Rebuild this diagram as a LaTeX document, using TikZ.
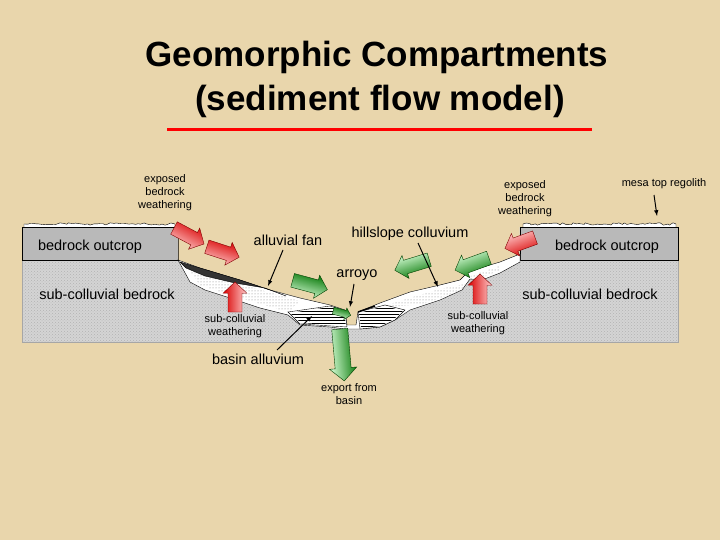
\documentclass[tikz,border=0pt]{standalone}
\usepackage{fontspec}
\setmainfont{Liberation Sans}
\usetikzlibrary{patterns,decorations.pathmorphing}
\definecolor{bg}{HTML}{E9D6AC}
\definecolor{rock}{HTML}{D4D4D4}
\tikzset{
  lbl/.style={font=\fontsize{14.5}{16}\selectfont, align=center, inner sep=1pt},
  sml/.style={font=\fontsize{11}{13}\selectfont, align=center, inner sep=1pt},
  ptr/.style={-latex, black, line width=1pt},
  redfill/.style={draw=red!50!black, left color=red!85!black, right color=red!20!white},
  grnfill/.style={draw=green!25!black, left color=green!45!black, right color=green!15!white},
}
% \blockarrow{x}{y}{angle}{length}{shaft width}{style}
\newcommand{\blockarrow}[6]{%
  \begin{scope}[shift={(#1,#2)}, rotate=#3]
  \path[#6, shading angle=#3] (-#4/2,-#5/2) -- ({#4/2-0.8*#5},-#5/2) -- ({#4/2-0.8*#5},-0.85*#5) -- (#4/2,0) -- ({#4/2-0.8*#5},0.85*#5) -- ({#4/2-0.8*#5},#5/2) -- (-#4/2,#5/2) -- cycle;
  \end{scope}}
\begin{document}
\begin{tikzpicture}[x=1pt,y=-1pt]
\fill[bg] (0,0) rectangle (720,540);
\node[font=\bfseries\fontsize{35}{40}\selectfont] (t1) at (377,57) {Geomorphic Compartments};
\node[font=\bfseries\fontsize{35}{40}\selectfont] (t2) at (380,101) {(sediment flow model)};
\draw[red, line width=3pt] (167,130) -- (592,130);
% bedrock body
\fill[rock] (22,227) rectangle (678,342);
\fill[pattern=crosshatch dots, pattern color=gray!60] (22,260) rectangle (678,342);
\draw[gray!70] (22,260) rectangle (678,342);
\fill[gray!55] (22,227) rectangle (178,260);
\fill[gray!55] (520,227) rectangle (678,260);
\draw (22,227) rectangle (178,260);
\draw (520,227) rectangle (678,260);
% regolith
\draw[fill=white, decorate, decoration={random steps, segment length=3pt, amplitude=1.2pt}] (24,227) -- (24,224) -- (175,224) -- (175,227);
\draw[fill=white, decorate, decoration={random steps, segment length=3pt, amplitude=1.2pt}] (523,227) -- (523,224) -- (676,224) -- (676,227);
% valley air
\fill[bg] (178.5,226) -- (178.5,260) -- (200,268) -- (240,280) -- (270,290) -- (300,298) -- (330,305) -- (345,310) -- (347,325) -- (356,325) -- (358,312) -- (380,303) -- (410,292) -- (440,285) -- (460,280) -- (468,272) -- (480,268) -- (500,262) -- (519.5,254) -- (519.5,226) -- cycle;
% sediment
\draw[fill=white] (178,260) -- (200,268) -- (240,280) -- (270,290) -- (300,298) -- (330,305) -- (345,310) -- (347,325) -- (356,325) -- (358,312) -- (380,303) -- (410,292) -- (440,285) -- (460,280) -- (468,272) -- (480,268) -- (500,262) -- (520,254) -- (520,262) -- (500,273) -- (482,280) -- (470,279) -- (462,290) -- (440,300) -- (410,310) -- (395,320) -- (380,327) -- (360,329) -- (345,329) -- (330,327) -- (300,325) -- (288,315) -- (260,308) -- (230,298) -- (205,290) -- (190,282) -- cycle;
\fill[pattern=dots, pattern color=gray] (188,268) -- (240,284) -- (300,301) -- (288,312) -- (230,295) -- (200,285) -- cycle;
\fill[pattern=dots, pattern color=gray] (380,307) -- (440,289) -- (465,284) -- (471,276) -- (500,266) -- (500,270) -- (472,282) -- (458,292) -- (420,305) -- cycle;
% basin alluvium
\draw[fill=white] (288,312) -- (330,306) -- (345,311) -- (347,327) -- (300,324) -- cycle;
\fill[pattern=horizontal lines] (290,313) -- (330,307) -- (344,312) -- (346,326) -- (301,323) -- cycle;
\draw[fill=white] (358,312) -- (385,305) -- (405,310) -- (395,320) -- (380,327) -- (360,329) -- cycle;
\fill[pattern=horizontal lines] (359,313) -- (385,306) -- (403,311) -- (394,319) -- (380,326) -- (361,328) -- cycle;
\draw[line width=1.5pt] (358,312) -- (375,306);
% alluvial fan
\draw[fill=gray!40!black] (180,262) -- (200,268) -- (240,280) -- (270,290) -- (286,296) -- (265,288) -- (235,283) -- (205,276) -- (186,268) -- cycle;
% block arrows
\blockarrow{189}{236}{-28}{34}{14}{redfill}
\blockarrow{223}{252}{-18}{34}{14}{redfill}
\blockarrow{520}{243}{200}{32}{14}{redfill}
\blockarrow{235}{297}{90}{30}{14}{redfill}
\blockarrow{480}{289}{90}{30}{14}{redfill}
\blockarrow{310}{285}{-15}{36}{14}{grnfill}
\blockarrow{412}{265}{197}{36}{14}{grnfill}
\blockarrow{472}{264}{200}{36}{14}{grnfill}
\blockarrow{342}{313}{-15}{18}{7}{grnfill}
\blockarrow{342}{355}{-85}{52}{16}{grnfill}
% labels
\node[sml] (eb1) at (165,193) {exposed\\bedrock\\weathering};
\node[sml] (eb2) at (525,199) {exposed\\bedrock\\weathering};
\node[sml] (mesa) at (664,184) {mesa top regolith};
\coordinate (mesaE) at (657,216);
\draw[ptr] (654,195) -- (mesaE);
\node[lbl] (bo1) at (90,247) {bedrock outcrop};
\node[lbl] (bo2) at (607,247) {bedrock outcrop};
\node[lbl] (af) at (288,240) {alluvial fan};
\coordinate (afE) at (268,286);
\draw[ptr] (283,250) -- (afE);
\node[lbl] (hc) at (410,234) {hillslope colluvium};
\coordinate (hcE) at (438,287);
\draw[ptr] (418,243) -- (hcE);
\node[lbl] (ar) at (357,275) {arroyo};
\coordinate (arE) at (350,307);
\draw[ptr] (354,284) -- (arE);
\node[lbl] (sb1) at (107,294) {sub-colluvial bedrock};
\node[lbl] (sb2) at (590,294) {sub-colluvial bedrock};
\node[sml] (sw1) at (235,326) {sub-colluvial\\weathering};
\node[sml] (sw2) at (478,323) {sub-colluvial\\weathering};
\node[lbl] (ba) at (258,359) {basin alluvium};
\coordinate (baE) at (312,316);
\draw[ptr] (277,350) -- (baE);
\node[sml] (ex) at (349,394) {export from\\basin};
\end{tikzpicture}
\end{document}
